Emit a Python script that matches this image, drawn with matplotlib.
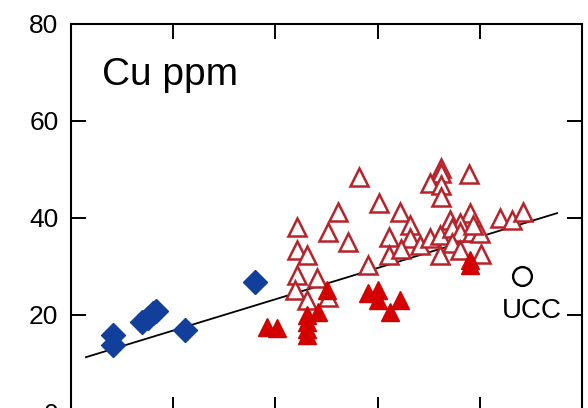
import matplotlib
matplotlib.use("Agg")
import matplotlib.pyplot as plt

plt.rcParams["font.family"] = ["Liberation Sans", "DejaVu Sans"]

# blue diamonds
blue_x = [9.00, 2.05, 2.05, 3.47, 3.77, 4.01, 4.16, 5.58]
blue_y = [26.8, 15.9, 13.8, 18.6, 19.4, 20.4, 20.8, 16.9]

# open red triangles
open_x = [14.09, 15.07, 13.06, 16.10, 18.10, 18.10, 17.56, 18.10, 18.10, 19.47,
          16.59, 19.52, 18.54, 19.03, 15.56, 16.59, 17.07, 17.56, 18.05, 18.64,
          19.03, 19.62, 20.01, 18.64, 15.56, 16.14, 20.99, 21.58, 22.11, 19.67,
          20.06, 11.06, 12.57, 13.55, 11.06, 11.55, 11.06, 12.04, 10.96, 11.55,
          12.57, 14.53, 18.05, 19.03]
open_y = [48.5, 43.1, 41.2, 41.2, 50.3, 49.3, 47.2, 46.8, 44.3, 49.1,
          38.6, 41.0, 39.6, 39.0, 36.1, 35.9, 34.4, 35.9, 36.5, 37.9,
          37.1, 37.1, 36.9, 34.8, 32.4, 33.6, 40.0, 39.6, 41.2, 38.6,
          32.6, 38.1, 37.1, 35.1, 33.4, 32.4, 28.2, 27.6, 25.2, 23.1,
          23.7, 30.3, 32.4, 33.4]

# filled red triangles
fill_x = [9.59, 10.08, 11.55, 11.55, 11.55, 11.55, 12.08, 12.52, 14.53, 15.02,
          15.02, 15.61, 16.10, 19.52, 19.52]
fill_y = [17.5, 17.3, 20.0, 18.6, 17.1, 15.9, 20.6, 25.2, 24.5, 25.2,
          23.1, 20.6, 23.1, 31.3, 30.3]

# upper continental crust reference
ucc_x = [22.06]
ucc_y = [28.0]

# trend line end points
trend_x = [0.73, 23.78]
trend_y = [11.3, 41.0]

fig = plt.figure(figsize=(5.88, 4.08), dpi=100)
ax = fig.add_axes([71 / 588, -4 / 408, 511 / 588, 388 / 408])

ax.plot(trend_x, trend_y, color="black", lw=1.3, zorder=2)
ax.plot(blue_x, blue_y, ls="none", marker="D", ms=12, color="#123f9c",
        mec="#123f9c", zorder=3)
ax.plot(open_x, open_y, ls="none", marker="^", ms=13, mfc="white",
        mec="#b8222a", mew=1.8, zorder=3)
ax.plot(fill_x, fill_y, ls="none", marker="^", ms=13, color="#d40000",
        mec="#d40000", zorder=4)
ax.plot(ucc_x, ucc_y, ls="none", marker="o", ms=13.5, mfc="none",
        mec="black", mew=1.7, zorder=3)

ax.text(22.55, 19.4, "UCC", fontsize=20, ha="center", va="baseline")
ax.text(1.52, 67.4, "Cu ppm", fontsize=28, ha="left", va="baseline")

ax.set_xlim(0, 25)
ax.set_ylim(0, 80)
ax.set_xticks([5, 10, 15, 20])
ax.set_yticks([0, 20, 40, 60, 80])
ax.tick_params(direction="in", length=11, width=1.4, top=True, right=True,
               labelsize=19, pad=9, labelbottom=False)
for s in ax.spines.values():
    s.set_linewidth(1.5)

fig.savefig("out.png", dpi=100)
